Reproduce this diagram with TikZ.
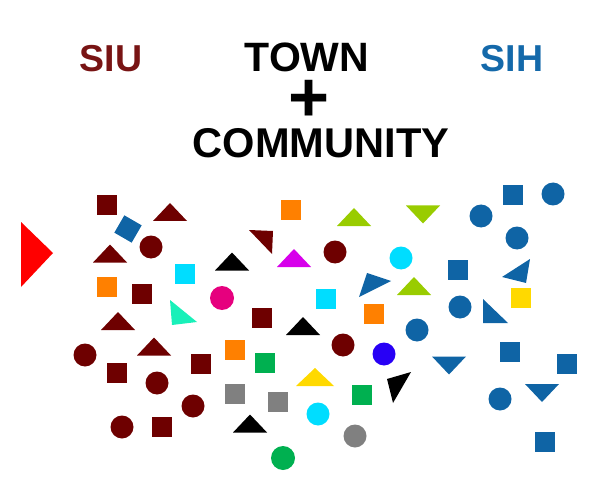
\documentclass[tikz,border=0pt]{standalone}
\usepackage{fontspec}
\setmainfont{Liberation Sans}
\usepackage{xcolor}
\definecolor{siured}{RGB}{110,0,0}
\definecolor{sihblue}{RGB}{15,100,165}
\definecolor{sitxtred}{RGB}{120,20,20}
\definecolor{sitxtblue}{RGB}{20,105,170}
\definecolor{tred}{RGB}{255,0,0}
\definecolor{tcyan}{RGB}{0,221,255}
\definecolor{torange}{RGB}{255,128,0}
\definecolor{tlime}{RGB}{153,204,0}
\definecolor{tmag}{RGB}{215,0,235}
\definecolor{tpink}{RGB}{230,0,126}
\definecolor{tteal}{RGB}{25,240,185}
\definecolor{tgreen}{RGB}{0,176,80}
\definecolor{tgrey}{RGB}{128,128,128}
\definecolor{tyellow}{RGB}{255,217,0}
\definecolor{tviolet}{RGB}{40,0,245}
\usepackage{tikz}
\newcommand{\sqsh}[3]{\fill[#3] (#1-10,#2-10) rectangle (#1+10,#2+10);}
\newcommand{\cish}[3]{\fill[#3] (#1,#2) circle (11.5);}
\newcommand{\trup}[3]{\fill[#3] (#1,#2-9) -- (#1+17,#2+9) -- (#1-17,#2+9) -- cycle;}
\newcommand{\trdn}[3]{\fill[#3] (#1,#2+9) -- (#1+17,#2-9) -- (#1-17,#2-9) -- cycle;}

\begin{document}
\begin{tikzpicture}[x=0.03cm,y=-0.03cm,head/.style={inner sep=0pt,font=\fontsize{#1}{#1}\selectfont\bfseries}]
\useasboundingbox (0,0) rectangle (592,483);
% ---- NAGLOWEK ----
\node[head=32,anchor=base,text=sitxtred] (siu) at (111,72) {SIU};
\node[head=35,anchor=base] (town) at (307,72) {TOWN};
\node[head=60] (plus) at (309,101) {+};
\node[head=35.5,anchor=base] (comm) at (321,158) {COMMUNITY};
\node[head=32,anchor=base,text=sitxtblue] (sih) at (512,72) {SIH};
% ---- STRZALKA ----
\fill[tred] (21,222) -- (53,253) -- (21,287) -- cycle;
% ---- SIU ----
\foreach \x/\y in {107/205,142/294,117/373,201/364,162/427,262/318}{\sqsh{\x}{\y}{siured}}
\foreach \x/\y in {151/247,85/355,157/383,193/406,122/427,335/252,343/345}{\cish{\x}{\y}{siured}}
\foreach \x/\y in {170/212,110/253.5,118/321,154/346.5}{\trup{\x}{\y}{siured}}
\fill[siured] (249,230) -- (273,231) -- (272,254) -- cycle;
% ---- MIASTO ----
\fill[sihblue,rotate around={-30:(128,229)}] (118,219) rectangle (138,239);
\sqsh{185}{274}{tcyan} \sqsh{326}{299}{tcyan}
\cish{401}{258}{tcyan} \cish{318}{414}{tcyan}
\foreach \x/\y in {107/287,291/210,374/314,235/350}{\sqsh{\x}{\y}{torange}}
\fill[tteal] (170,300) -- (197,322) -- (172,325) -- cycle;
\trup{354}{217}{tlime} \trup{414}{286}{tlime} \trdn{423}{214.5}{tlime}
\foreach \x/\y in {232/261.5,303/326,250/423.5}{\trup{\x}{\y}{black}}
\fill[black] (387,379) -- (411,372) -- (393,403) -- cycle;
\trup{294}{258}{tmag}
\fill[sihblue] (359,297) -- (367,273) -- (391,281) -- cycle;
\fill[tpink] (222,298) circle (12);
\sqsh{265}{363}{tgreen} \sqsh{362}{395}{tgreen}
\fill[tgreen] (283,458) circle (12);
\fill[tyellow] (315,368) -- (334,386) -- (296,386) -- cycle;
\sqsh{235}{394}{tgrey} \sqsh{278}{402}{tgrey}
\cish{355}{436}{tgrey}
\cish{384}{354}{tviolet}
% ---- SIH ----
\foreach \x/\y in {481/216,553/194,517/238,460/307,417/330,500/399}{\cish{\x}{\y}{sihblue}}
\foreach \x/\y in {513/195,458/270,510/352,567/364,545/442}{\sqsh{\x}{\y}{sihblue}}
\trdn{449}{365.5}{sihblue} \trdn{542}{393}{sihblue}
\fill[sihblue] (530,259) -- (526,283) -- (502,277) -- cycle;
\fill[sihblue] (483,299) -- (508,323) -- (483,323) -- cycle;
\sqsh{521}{298}{tyellow}
\end{tikzpicture}
\end{document}
